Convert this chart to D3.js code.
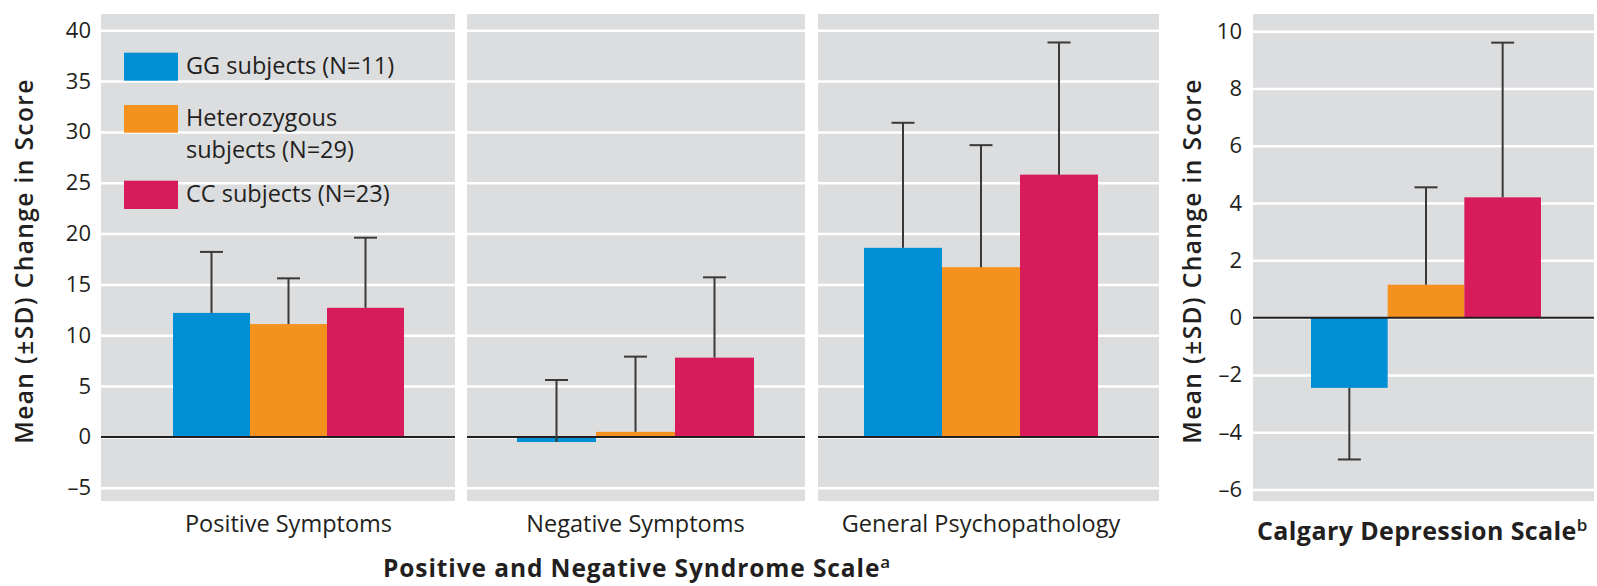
<!DOCTYPE html>
<html>
<head>
<meta charset="utf-8">
<script src="https://cdn.jsdelivr.net/npm/d3@7"></script>
<style>
  html, body { margin: 0; padding: 0; background: #ffffff; }
  svg { display: block; font-family: "Open Sans", "Noto Sans", sans-serif; }
</style>
</head>
<body>
<svg id="chart" width="1597" height="586"></svg>
<script>
// ---------------- DATA ----------------
const groups = ["GG subjects (N=11)", "Heterozygous subjects (N=29)", "CC subjects (N=23)"];
const legendLines = [["GG subjects (N=11)"], ["Heterozygous", "subjects (N=29)"], ["CC subjects (N=23)"]];
const panssCategories = ["Positive Symptoms", "Negative Symptoms", "General Psychopathology"];

// mean change and SD, per group (GG, heterozygous, CC)
const positiveMeans = [12.2, 11.1, 12.7];
const positiveSD    = [6.0, 4.5, 6.9];
const negativeMeans = [-0.5, 0.5, 7.8];
const negativeSD    = [6.1, 7.4, 7.9];
const generalMeans  = [18.6, 16.7, 25.8];
const generalSD     = [12.3, 12.0, 13.0];
const calgaryMeans  = [-2.45, 1.15, 4.2];
const calgarySD     = [2.5, 3.4, 5.4];

const panssTicks   = [-5, 0, 5, 10, 15, 20, 25, 30, 35, 40];
const calgaryTicks = [-6, -4, -2, 0, 2, 4, 6, 8, 10];

const panssTitle = "Positive and Negative Syndrome Scale";
const calgaryTitle = "Calgary Depression Scale";
const yTitle = "Mean (\u00B1SD) Change in Score";

// ---------------- STYLE / LAYOUT ----------------
const colors = ["#008fd5", "#f5921e", "#d81b5a"];
const panelFill = "#dcdddf";
const ink = "#231f20";
const panelTop = 14, panelBottom = 501;

const svg = d3.select("#chart");

const yPanss = d3.scaleLinear().domain([-6.3, 41.6]).range([panelBottom, panelTop]);
const yCalg  = d3.scaleLinear().domain([-6.4, 10.6]).range([panelBottom, panelTop]);

const panels = [
  { x0: 101,  x1: 455,  bars: [173, 404],  label: panssCategories[0], means: positiveMeans, sd: positiveSD, y: yPanss, ticks: panssTicks, dir: "up" },
  { x0: 467,  x1: 805,  bars: [517, 754],  label: panssCategories[1], means: negativeMeans, sd: negativeSD, y: yPanss, ticks: panssTicks, dir: "up" },
  { x0: 818,  x1: 1159, bars: [864, 1098], label: panssCategories[2], means: generalMeans,  sd: generalSD,  y: yPanss, ticks: panssTicks, dir: "up" },
  { x0: 1253, x1: 1594, bars: [1311, 1541], label: null,              means: calgaryMeans,  sd: calgarySD,  y: yCalg,  ticks: calgaryTicks, dir: "away" }
];

panels.forEach(p => {
  const g = svg.append("g");
  g.append("rect").attr("x", p.x0).attr("y", panelTop).attr("width", p.x1 - p.x0)
    .attr("height", panelBottom - panelTop).attr("fill", panelFill);

  // gridlines
  const grid = g.append("g").attr("transform", `translate(${p.x0},0)`)
    .call(d3.axisLeft(p.y).tickValues(p.ticks).tickSize(-(p.x1 - p.x0)).tickFormat(""));
  grid.select(".domain").remove();
  grid.selectAll(".tick line").attr("stroke", "#ffffff").attr("stroke-width", 2.5);

  const x = d3.scaleBand().domain(groups).range(p.bars).padding(0);
  const data = groups.map((grp, i) => ({ grp, mean: p.means[i], sd: p.sd[i], color: colors[i] }));

  g.selectAll("rect.bar").data(data).join("rect")
    .attr("class", "bar")
    .attr("x", d => x(d.grp))
    .attr("width", x.bandwidth())
    .attr("y", d => p.y(Math.max(0, d.mean)))
    .attr("height", d => Math.abs(p.y(d.mean) - p.y(0)))
    .attr("fill", d => d.color);

  // zero line
  g.append("line").attr("x1", p.x0).attr("x2", p.x1).attr("y1", p.y(0)).attr("y2", p.y(0))
    .attr("stroke", ink).attr("stroke-width", 2);

  // error bars
  const endOf = d => (p.dir === "up" || d.mean >= 0) ? d.mean + d.sd : d.mean - d.sd;
  const cx = d => x(d.grp) + x.bandwidth() / 2;
  const eb = g.selectAll("g.err").data(data).join("g").attr("class", "err");
  eb.append("line").attr("x1", cx).attr("x2", cx).attr("y1", d => p.y(d.mean)).attr("y2", d => p.y(endOf(d)))
    .attr("stroke", "#3a3838").attr("stroke-width", 2);
  eb.append("line").attr("x1", d => cx(d) - 11.5).attr("x2", d => cx(d) + 11.5)
    .attr("y1", d => p.y(endOf(d))).attr("y2", d => p.y(endOf(d)))
    .attr("stroke", "#3a3838").attr("stroke-width", 2);

  if (p.label) {
    g.append("text").attr("x", (p.bars[0] + p.bars[1]) / 2).attr("y", 532)
      .attr("text-anchor", "middle").attr("font-size", 23.5).attr("fill", ink).text(p.label);
  }
});

// y axes tick labels
function yAxis(scale, ticks, xPos) {
  const a = svg.append("g").attr("transform", `translate(${xPos},0)`)
    .call(d3.axisLeft(scale).tickValues(ticks).tickSize(0).tickPadding(0)
      .tickFormat(d => d < 0 ? "\u2013" + Math.abs(d) : String(d)));
  a.select(".domain").remove();
  a.selectAll("text").attr("font-size", 22).attr("fill", ink).attr("font-family", "'Open Sans', sans-serif");
}
yAxis(yPanss, panssTicks, 91);
yAxis(yCalg, calgaryTicks, 1242);

// y titles
[[33, 261], [1201, 261]].forEach(([tx, ty]) => {
  svg.append("text").attr("transform", `translate(${tx},${ty}) rotate(-90)`)
    .attr("text-anchor", "middle").attr("font-size", 24.5).attr("font-weight", 600)
    .attr("letter-spacing", 1.4).attr("fill", ink).text(yTitle);
});

// legend
const legendY = [[52.7, 80.7], [105, 132.7], [180.7, 209]];
const legendBase = [[74], [126, 157.5], [201.5]];
legendLines.forEach((lines, i) => {
  svg.append("rect").attr("x", 124).attr("y", legendY[i][0]).attr("width", 54)
    .attr("height", legendY[i][1] - legendY[i][0]).attr("fill", colors[i]);
  lines.forEach((ln, j) => {
    svg.append("text").attr("x", 186).attr("y", legendBase[i][j]).attr("font-size", 23.5)
      .attr("fill", ink).text(ln);
  });
});

// scale titles
const t1 = svg.append("text").attr("x", 383).attr("y", 577).attr("font-size", 24.5)
  .attr("font-weight", 700).attr("letter-spacing", 0.9).attr("fill", ink).text(panssTitle);
t1.append("tspan").attr("font-size", 17).attr("dy", -9).attr("font-weight", 600).text("a");

const t2 = svg.append("text").attr("x", 1257).attr("y", 540).attr("font-size", 25)
  .attr("font-weight", 700).attr("letter-spacing", 0.4).attr("fill", ink).text(calgaryTitle);
t2.append("tspan").attr("font-size", 17).attr("dy", -9).attr("font-weight", 600).text("b");
</script>
</body>
</html>
